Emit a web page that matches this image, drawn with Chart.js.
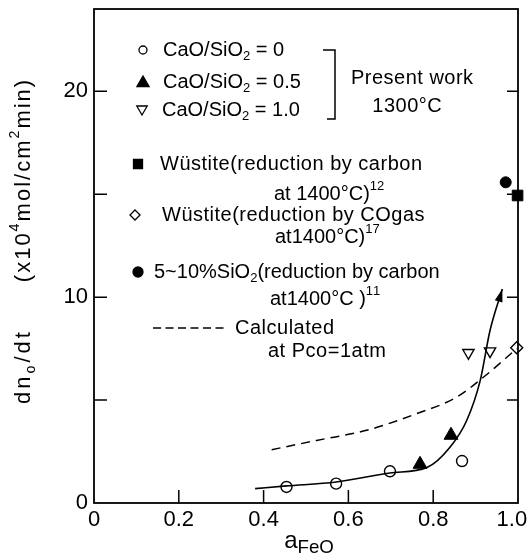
<!DOCTYPE html>
<html>
<head>
<meta charset="utf-8">
<script src="https://cdn.jsdelivr.net/npm/chart.js@4.4.0/dist/chart.umd.min.js"></script>
<style>
  html, body { margin: 0; padding: 0; background: #fff; }
</style>
</head>
<body>
<canvas id="chart" width="529" height="560"></canvas>
<script>
// axis ticks
var xTicks = [0, 0.2, 0.4, 0.6, 0.8, 1.0];
var xTickLabels = ['0', '0.2', '0.4', '0.6', '0.8', '1.0  '];
var yTicks = [0, 5, 10, 15, 20];
var yTickLabels = ['0', '', '10', '', '20'];

// present work, 1300 C
var cao0X = [0.454, 0.571, 0.698, 0.868];
var cao0Y = [0.78, 0.94, 1.54, 2.04];
var cao05X = [0.769, 0.842];
var cao05Y = [1.88, 3.29];
var cao10X = [0.883, 0.934];
var cao10Y = [7.30, 7.38];

// literature values, 1400 C
var wustCX = [0.999];
var wustCY = [14.94];
var wustCOX = [0.997];
var wustCOY = [7.54];
var sio2X = [0.971];
var sio2Y = [15.58];

// hand drawn trend line (ends in arrow) and calculated line
var trendX = [0.38, 0.454, 0.571, 0.698, 0.785, 0.840, 0.879, 0.911, 0.934, 0.963];
var trendY = [0.70, 0.83, 1.02, 1.46, 1.72, 2.72, 4.01, 5.96, 8.38, 10.4];
var calcX = [0.419, 0.525, 0.643, 0.761, 0.856, 0.919, 0.997];
var calcY = [2.59, 3.04, 3.53, 4.34, 5.15, 6.12, 7.5];

var FONT = '"Liberation Sans", Arial, sans-serif';

function pts(xs, ys) {
  return xs.map(function(x, i) { return {x: x, y: ys[i]}; });
}

// draws text with sub / superscript pieces (sp = extra space per letter)
function richText(ctx, segs, x, y, size, align, sp) {
  sp = sp || 0;
  var w = 0, i, k;
  var parts = [];
  for (i = 0; i < segs.length; i++) {
    var s = segs[i];
    var f = s.sub || s.sup ? size * (s.k || 0.65) : size;
    ctx.font = f + 'px ' + FONT;
    for (k = 0; k < s.t.length; k++) {
      var cw = ctx.measureText(s.t[k]).width;
      parts.push({c: s.t[k], f: f, w: cw, dy: s.sub ? size * (s.d || 0.3) : (s.sup ? -size * 0.4 : 0)});
      w += cw + sp;
    }
  }
  w -= sp;
  var cx = align === 'center' ? x - w / 2 : x;
  ctx.fillStyle = '#000';
  ctx.textBaseline = 'middle';
  ctx.textAlign = 'left';
  for (i = 0; i < parts.length; i++) {
    ctx.font = parts[i].f + 'px ' + FONT;
    ctx.fillText(parts[i].c, cx, y + parts[i].dy);
    cx += parts[i].w + sp;
  }
  return w;
}

function marker(ctx, style, x, y, r, filled) {
  ctx.beginPath();
  if (style === 'circle') {
    ctx.arc(x, y, r, 0, Math.PI * 2);
  } else if (style === 'up') {
    ctx.moveTo(x, y - r); ctx.lineTo(x + r * 0.87, y + r * 0.5); ctx.lineTo(x - r * 0.87, y + r * 0.5);
    ctx.closePath();
  } else if (style === 'down') {
    ctx.moveTo(x, y + r); ctx.lineTo(x + r * 0.87, y - r * 0.5); ctx.lineTo(x - r * 0.87, y - r * 0.5);
    ctx.closePath();
  } else if (style === 'rect') {
    ctx.rect(x - r, y - r, 2 * r, 2 * r);
  } else if (style === 'diamond') {
    ctx.moveTo(x, y - r); ctx.lineTo(x + r, y); ctx.lineTo(x, y + r); ctx.lineTo(x - r, y);
    ctx.closePath();
  }
  ctx.lineWidth = 1.3;
  ctx.strokeStyle = '#000';
  ctx.fillStyle = filled ? '#000' : '#fff';
  ctx.fill();
  ctx.stroke();
}

function noPad(scale) {
  scale.paddingTop = 0; scale.paddingBottom = 0;
  scale.paddingLeft = 0; scale.paddingRight = 0;
}

var decoPlugin = {
  id: 'deco',
  afterDatasetsDraw: function(chart) {
    // arrow head at the end of the trend line
    var ctx = chart.ctx;
    var xs = chart.scales.x, ys = chart.scales.y;
    var n = trendX.length;
    var x1 = xs.getPixelForValue(trendX[n - 2]), y1 = ys.getPixelForValue(trendY[n - 2]);
    var x2 = xs.getPixelForValue(trendX[n - 1]), y2 = ys.getPixelForValue(trendY[n - 1]);
    var a = Math.atan2(y2 - y1, x2 - x1);
    ctx.save();
    ctx.fillStyle = '#000';
    ctx.beginPath();
    ctx.moveTo(x2, y2);
    ctx.lineTo(x2 - 13 * Math.cos(a) + 4 * Math.sin(a), y2 - 13 * Math.sin(a) - 4 * Math.cos(a));
    ctx.lineTo(x2 - 13 * Math.cos(a) - 4 * Math.sin(a), y2 - 13 * Math.sin(a) + 4 * Math.cos(a));
    ctx.closePath();
    ctx.fill();
    ctx.restore();
  },
  afterDraw: function(chart) {
    var ctx = chart.ctx;
    var area = chart.chartArea;
    var xs = chart.scales.x, ys = chart.scales.y;
    ctx.save();
    ctx.strokeStyle = '#000';
    ctx.lineWidth = 1.8;
    ctx.strokeRect(area.left, area.top, area.right - area.left, area.bottom - area.top);

    // inward ticks
    ctx.lineWidth = 1.5;
    ctx.beginPath();
    xTicks.slice(1, -1).forEach(function(v) {
      var px = xs.getPixelForValue(v);
      ctx.moveTo(px, area.bottom); ctx.lineTo(px, area.bottom - 13);
    });
    yTicks.slice(1).forEach(function(v) {
      var py = ys.getPixelForValue(v);
      ctx.moveTo(area.left, py); ctx.lineTo(area.left + 13, py);
      ctx.moveTo(area.right, py); ctx.lineTo(area.right - 11, py);
    });
    ctx.stroke();

    var fs = 20;

    // legend, present work
    marker(ctx, 'circle', 143, 50, 4, false);
    richText(ctx, [{t: 'CaO/SiO'}, {t: '2', sub: true}, {t: ' = 0'}], 163, 50, fs);
    marker(ctx, 'up', 143, 83, 7, true);
    richText(ctx, [{t: 'CaO/SiO'}, {t: '2', sub: true}, {t: ' = 0.5'}], 163, 82, fs);
    marker(ctx, 'down', 142, 109, 6, false);
    richText(ctx, [{t: 'CaO/SiO'}, {t: '2', sub: true}, {t: ' = 1.0'}], 162, 110, fs);

    ctx.lineWidth = 1.5;
    ctx.strokeStyle = '#000';
    ctx.beginPath();
    ctx.moveTo(323, 50); ctx.lineTo(335, 50); ctx.lineTo(335, 119); ctx.lineTo(327, 119);
    ctx.stroke();
    richText(ctx, [{t: 'Present work'}], 412, 78, fs, 'center', 0.5);
    richText(ctx, [{t: '1300°C'}], 407, 106, fs, 'center', 0.5);

    // legend, literature
    marker(ctx, 'rect', 138, 164, 4.5, true);
    richText(ctx, [{t: 'Wüstite(reduction by carbon'}], 160, 164, fs, null, 0.5);
    richText(ctx, [{t: 'at 1400°C)'}, {t: '12', sup: true}], 274, 194, fs);

    marker(ctx, 'diamond', 135, 215, 5, false);
    richText(ctx, [{t: 'Wüstite(reduction by COgas'}], 162, 215, fs, null, 0.5);
    richText(ctx, [{t: 'at1400°C)'}, {t: '17', sup: true}], 275, 237, fs);

    marker(ctx, 'circle', 138, 272, 5, true);
    richText(ctx, [{t: '5~10%SiO'}, {t: '2', sub: true}, {t: '(reduction by carbon'}], 154, 272, fs);
    richText(ctx, [{t: 'at1400°C )'}, {t: '11', sup: true}], 270, 299, fs);

    ctx.lineWidth = 1.5;
    ctx.strokeStyle = '#000';
    ctx.setLineDash([8, 4.5]);
    ctx.beginPath();
    ctx.moveTo(153, 328); ctx.lineTo(228, 328);
    ctx.stroke();
    ctx.setLineDash([]);
    richText(ctx, [{t: 'Calculated'}], 235, 328, fs, null, 0.5);
    richText(ctx, [{t: 'at Pco=1atm'}], 268, 351, fs, null, 0.5);

    // axis titles
    richText(ctx, [{t: 'a'}, {t: 'FeO', sub: true, k: 0.78, d: 0.28}], 309, 541, 24, 'center');

    ctx.translate(24, 0);
    ctx.rotate(-Math.PI / 2);
    richText(ctx, [{t: 'dn'}, {t: 'o', sub: true}, {t: '/dt'}], -368, 0, 22, 'center', 3);
    richText(ctx, [{t: '(x10'}, {t: '4', sup: true}, {t: 'mol/cm'}, {t: '2', sup: true}, {t: 'min)'}],
             -181, 0, 22, 'center', 2);
    ctx.restore();
  }
};

var ctx = document.getElementById('chart').getContext('2d');
var chart = new Chart(ctx, {
  type: 'scatter',
  data: {
    datasets: [
      {
        label: 'trend',
        data: pts(trendX, trendY),
        showLine: true,
        borderColor: '#000',
        borderWidth: 1.6,
        pointRadius: 0,
        cubicInterpolationMode: 'monotone',
        fill: false
      },
      {
        label: 'Calculated at Pco=1atm',
        data: pts(calcX, calcY),
        showLine: true,
        borderColor: '#000',
        borderWidth: 1.5,
        borderDash: [9, 6],
        pointRadius: 0,
        cubicInterpolationMode: 'monotone',
        fill: false
      },
      {
        label: 'CaO/SiO2 = 0',
        data: pts(cao0X, cao0Y),
        pointStyle: 'circle', pointRadius: 5.5,
        backgroundColor: '#fff', borderColor: '#000', borderWidth: 1.4
      },
      {
        label: 'CaO/SiO2 = 0.5',
        data: pts(cao05X, cao05Y),
        pointStyle: 'triangle', pointRadius: 8,
        backgroundColor: '#000', borderColor: '#000', borderWidth: 1
      },
      {
        label: 'CaO/SiO2 = 1.0',
        data: pts(cao10X, cao10Y),
        pointStyle: 'triangle', pointRadius: 6.5, rotation: 180,
        backgroundColor: '#fff', borderColor: '#000', borderWidth: 1.4
      },
      {
        label: 'Wustite (carbon)',
        data: pts(wustCX, wustCY),
        pointStyle: 'rect', pointRadius: 7.5,
        backgroundColor: '#000', borderColor: '#000', borderWidth: 1
      },
      {
        label: 'Wustite (CO gas)',
        data: pts(wustCOX, wustCOY),
        pointStyle: 'rectRot', pointRadius: 6,
        backgroundColor: '#fff', borderColor: '#000', borderWidth: 1.4
      },
      {
        label: '5~10%SiO2',
        data: pts(sio2X, sio2Y),
        pointStyle: 'circle', pointRadius: 5.5,
        backgroundColor: '#000', borderColor: '#000', borderWidth: 1
      }
    ]
  },
  options: {
    responsive: false,
    animation: false,
    devicePixelRatio: 1,
    clip: false,
    layout: { padding: { left: 0, right: 11, top: 8, bottom: 0 } },
    plugins: {
      legend: { display: false },
      tooltip: { enabled: false }
    },
    scales: {
      x: {
        type: 'linear',
        min: 0, max: 1,
        afterBuildTicks: function(scale) {
          scale.ticks = xTicks.map(function(v) { return {value: v}; });
        },
        afterFit: function(scale) { scale.height = 57; noPad(scale); },
        grid: { display: false, drawTicks: false },
        border: { display: false },
        ticks: {
          padding: 4,
          color: '#000',
          font: { family: FONT, size: 22 },
          callback: function(v) { return xTickLabels[xTicks.indexOf(v)]; }
        }
      },
      y: {
        type: 'linear',
        min: 0, max: 24,
        afterBuildTicks: function(scale) {
          scale.ticks = yTicks.map(function(v) { return {value: v}; });
        },
        afterFit: function(scale) { scale.width = 94; noPad(scale); },
        grid: { display: false, drawTicks: false },
        border: { display: false },
        ticks: {
          padding: 6,
          color: '#000',
          font: { family: FONT, size: 22 },
          callback: function(v) { return yTickLabels[yTicks.indexOf(v)]; }
        }
      }
    }
  },
  plugins: [decoPlugin]
});
</script>
</body>
</html>
